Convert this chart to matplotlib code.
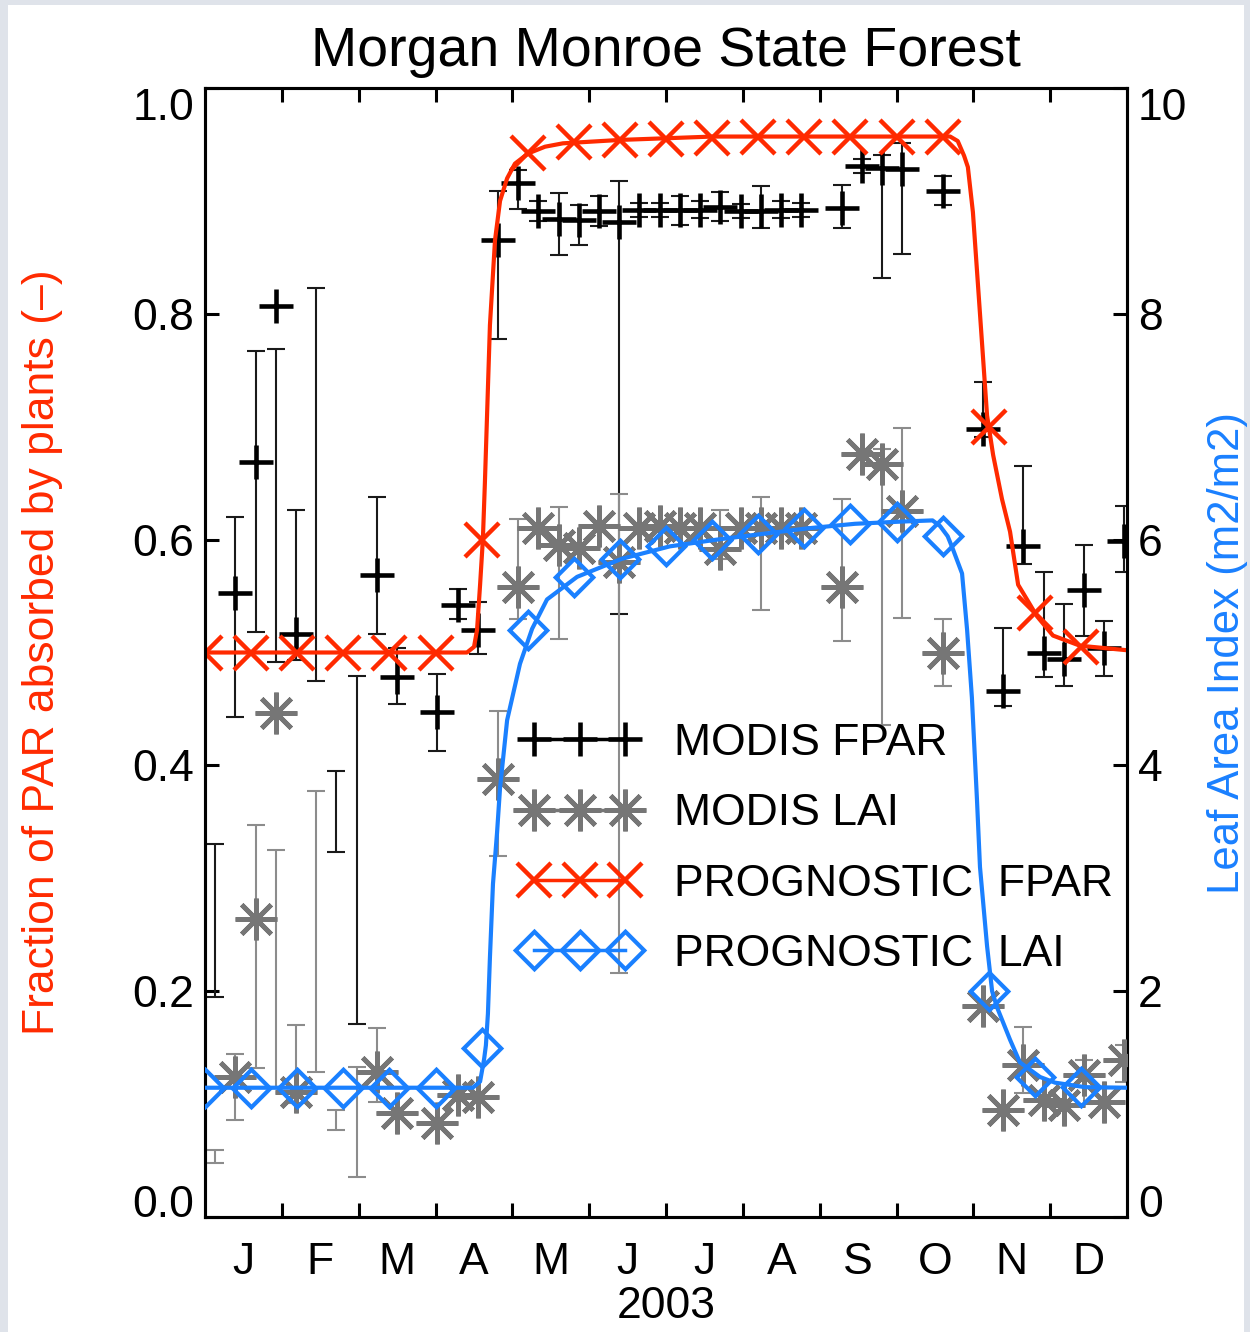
import numpy as np
import matplotlib
matplotlib.use('Agg')
import matplotlib.pyplot as plt
from matplotlib.lines import Line2D
from matplotlib.patches import Rectangle

plt.rcParams['font.family'] = ['Liberation Sans', 'DejaVu Sans']

RED = '#ff2a00'
BLUE = '#1a80ff'
GRAY = '#767676'
LGRAY = '#8c8c8c'

months = ['J', 'F', 'M', 'A', 'M', 'J', 'J', 'A', 'S', 'O', 'N', 'D']

# MODIS 8-day composites (day of year)
doy = [4, 12, 20, 28, 36, 44, 52, 60, 68, 76, 84, 92, 100, 108, 116, 124,
       132, 140, 148, 156, 164, 172, 180, 188, 196, 204, 212, 220, 228, 236,
       244, 252, 260, 268, 276, 284, 292, 300, 308, 316, 324, 332, 340, 348,
       356, 364]
N = None
modis_fpar = [N, 0.553, 0.669, 0.807, 0.516, N, N, N, 0.569, 0.478, N, 0.447,
              0.542, 0.520, 0.865, 0.916, 0.891, 0.884, 0.883, 0.891, 0.881,
              0.892, 0.892, 0.892, 0.892, 0.895, 0.891, 0.891, 0.892, 0.892,
              N, 0.894, 0.931, 0.929, 0.928, N, 0.909, N, 0.698, 0.466, 0.594,
              0.500, 0.494, 0.555, 0.504, 0.599]
fpar_lo = [0.195, 0.443, 0.518, 0.492, 0.493, 0.475, 0.323, 0.171, 0.516, 0.454,
           N, 0.413, 0.530, 0.499, 0.778, 0.893, 0.882, 0.852, 0.861, 0.878,
           0.534, 0.886, 0.886, 0.879, 0.885, 0.882, 0.885, 0.876, 0.885, 0.886,
           N, 0.876, 0.925, 0.832, 0.853, N, 0.896, N, 0.691, 0.453, 0.578,
           0.478, 0.470, 0.515, 0.479, 0.571]
fpar_hi = [0.330, 0.620, 0.767, 0.769, 0.626, 0.823, 0.395, 0.479, 0.638, 0.504,
           N, 0.481, 0.556, 0.545, 0.909, 0.927, 0.900, 0.907, 0.896, 0.904,
           0.918, 0.898, 0.898, 0.904, 0.900, 0.908, 0.897, 0.913, 0.900, 0.898,
           N, 0.914, 0.937, 0.941, 0.951, N, 0.922, N, 0.740, 0.522, 0.665,
           0.571, 0.543, 0.595, 0.528, 0.630]
modis_lai = [N, 1.24, 2.64, 4.46, 1.11, N, N, N, 1.28, 0.92, N, 0.83, 1.08, 1.06,
             3.88, 5.58, 6.10, 5.95, 5.93, 6.12, 5.80, 6.10, 6.12, 6.10, 6.10,
             5.92, 6.10, 6.10, 6.10, 6.10, N, 5.58, 6.76, 6.67, 6.25, N, 5.00,
             N, 1.87, 0.95, 1.35, 1.04, 0.99, 1.26, 1.02, 1.39]
lai_lo = [0.48, 0.86, 1.32, 1.14, 1.01, 1.28, 0.77, 0.35, 1.02, N, N, N, N, N,
          3.20, 5.30, N, 5.12, N, N, 2.16, N, N, N, N, 5.83, N, 5.38, N, N,
          N, 5.10, N, 4.36, 5.31, N, 4.70, N, N, N, 1.10, N, N, 1.00, N, 1.20]
lai_hi = [0.59, 1.44, 3.47, 3.25, 1.70, 3.77, 0.95, 1.33, 1.67, N, N, N, N, N,
          4.48, 6.18, N, 6.29, N, N, 6.40, N, N, N, N, 6.26, N, 6.38, N, N,
          N, 6.36, N, 6.80, 6.99, N, 5.30, N, N, N, 1.68, N, N, 1.39, N, 1.52]

# prognostic model curves
prog_fpar_day = [0, 103.7, 106.5, 107.7, 108.9, 110, 110.8, 112.8, 114.8, 116.8,
                 119.6, 122.7, 127.9, 134.6, 141.7, 164.3, 201, 247.4, 295, 298,
                 300.5, 302, 304, 306.8, 309.6, 312, 315.5, 318.7, 321.9, 325.4,
                 329.4, 335.7, 346.4, 365]
prog_fpar = [0.50, 0.50, 0.505, 0.52, 0.56, 0.60, 0.65, 0.79, 0.865, 0.90,
             0.92, 0.933, 0.942, 0.948, 0.951, 0.954, 0.957, 0.957, 0.957, 0.953,
             0.94, 0.93, 0.89, 0.80, 0.71, 0.675, 0.636, 0.607, 0.56, 0.547,
             0.532, 0.515, 0.506, 0.502]
prog_lai_day = [0, 106, 108.9, 110.5, 111.2, 112, 112.8, 114, 115.6, 116.8,
                119.6, 124.7, 129.5, 135.4, 147.3, 165, 184, 202.7, 220.5, 238.7,
                257.3, 276, 288, 291, 294, 296, 299.7, 301.7, 303.6, 305.6,
                306.8, 309.6, 311.6, 313.5, 318.7, 322.6, 330.6, 336.5, 348.4, 365]
prog_lai = [1.145, 1.145, 1.2, 1.4, 1.52, 1.8, 2.3, 2.95, 3.4, 3.8,
            4.4, 4.9, 5.21, 5.47, 5.67, 5.83, 5.94, 6.0, 6.05, 6.1,
            6.14, 6.16, 6.17, 6.12, 6.03, 5.92, 5.7, 5.2, 4.6, 3.7,
            3.1, 2.4, 2.0, 1.86, 1.57, 1.37, 1.24, 1.19, 1.15, 1.145]
mark_day = [0, 18.25, 36.5, 54.75, 73, 91.25, 109.5, 127.75, 146, 164.25,
            182.5, 200.75, 219, 237.25, 255.5, 273.75, 292, 310.25, 328.5, 346.75]
mark_fpar = [0.50, 0.50, 0.50, 0.50, 0.50, 0.50, 0.60, 0.942, 0.952, 0.954,
             0.955, 0.956, 0.957, 0.957, 0.957, 0.957, 0.957, 0.70, 0.535, 0.505]
mark_lai = [1.145, 1.145, 1.145, 1.145, 1.145, 1.145, 1.5, 5.2, 5.67, 5.83,
            5.94, 6.0, 6.05, 6.1, 6.14, 6.16, 6.03, 2.0, 1.24, 1.15]


def arr(v):
    return np.array([np.nan if a is None else a for a in v], dtype=float)


fig = plt.figure(figsize=(12.5, 13.32), dpi=100)
fig.patch.set_facecolor('#dfe3ea')
fig.patches.append(Rectangle((8 / 1250, 0), 1236 / 1250, 1 - 5 / 1332,
                             transform=fig.transFigure, facecolor='white',
                             edgecolor='none', zorder=-10))

ax = fig.add_axes([205 / 1250, 1 - 1217 / 1332, 922 / 1250, 1129 / 1332])
ax2 = ax.twinx()
ax.patch.set_alpha(0)

x = np.array(doy, dtype=float)

# MODIS FPAR with error bars
lo, hi = arr(fpar_lo), arr(fpar_hi)
ax.errorbar(x, (lo + hi) / 2, yerr=(hi - lo) / 2, fmt='none', ecolor='#1a1a1a',
            elinewidth=1.5, capsize=6.5, capthick=1.5, zorder=2)
ax.plot(x, arr(modis_fpar), ls='none', marker='+', ms=25, mew=3.3,
        color='black', zorder=3)
# prognostic FPAR
ax.plot(prog_fpar_day, prog_fpar, color=RED, lw=3, zorder=4)
ax.plot(mark_day, mark_fpar, ls='none', marker='x', ms=24, mew=3.2,
        color=RED, zorder=5)

# MODIS LAI with error bars
lo, hi = arr(lai_lo), arr(lai_hi)
ax2.errorbar(x, (lo + hi) / 2, yerr=(hi - lo) / 2, fmt='none', ecolor=LGRAY,
             elinewidth=1.5, capsize=6.5, capthick=1.5, zorder=2)
ax2.plot(x, arr(modis_lai), ls='none', marker=(8, 2, 0), ms=30, mew=3.4,
         color=GRAY, zorder=3)
# prognostic LAI
ax2.plot(prog_lai_day, prog_lai, color=BLUE, lw=3, zorder=4)
ax2.plot(mark_day, mark_lai, ls='none', marker=(4, 0, 0), ms=27, mew=3,
         mfc='none', mec=BLUE, zorder=5)

ax.set_xlim(0, 365)
ax.set_ylim(0, 1)
ax2.set_ylim(0, 10)

bounds = np.arange(1, 12) * 365 / 12
centers = (np.arange(12) + 0.5) * 365 / 12
ax.set_xticks(bounds)
ax.set_xticklabels([])
ax.set_xticks(centers, minor=True)
ax.set_xticklabels(months, minor=True)
ax.tick_params(axis='x', which='major', direction='in', length=10, width=2.2,
               top=True, bottom=True)
ax.tick_params(axis='x', which='minor', length=0, pad=18, labelsize=32)
ax.set_xlabel('2003', fontsize=32, labelpad=2)

ax.set_yticks([0, 0.2, 0.4, 0.6, 0.8, 1.0])
ax.set_yticklabels(['0.0', '0.2', '0.4', '0.6', '0.8', '1.0'])
ax.tick_params(axis='y', direction='in', length=10, width=2.2, labelsize=32, pad=8)
ax2.set_yticks([0, 2, 4, 6, 8, 10])
ax2.set_yticklabels(['0', '2', '4', '6', '8', '10'])
ax2.tick_params(axis='y', direction='in', length=10, width=2.2, labelsize=32, pad=8)
# end labels sit inside the axis range
for a in (ax, ax2):
    tl = a.get_yticklabels()
    tl[0].set_verticalalignment('baseline')
    tl[-1].set_verticalalignment('top')

for a in (ax, ax2):
    for s in a.spines.values():
        s.set_linewidth(2.2)

ax.set_ylabel('Fraction of PAR absorbed by plants (\u2013)', color=RED,
              fontsize=32, labelpad=50)
ax2.set_ylabel('Leaf Area Index (m2/m2)', color=BLUE, fontsize=31.5,
               rotation=90, labelpad=14)
ax.set_title('Morgan Monroe State Forest', fontsize=40, pad=16)

handles = [
    Line2D([], [], color='black', lw=2.5, marker='+', ms=25, mew=3.3),
    Line2D([], [], color=GRAY, lw=2.5, marker=(8, 2, 0), ms=30, mew=3.4),
    Line2D([], [], color=RED, lw=2.5, marker='x', ms=24, mew=3.2),
    Line2D([], [], color=BLUE, lw=2.5, marker=(4, 0, 0), ms=27, mew=3,
           mfc='none', mec=BLUE),
]
labels = ['MODIS FPAR', 'MODIS LAI', 'PROGNOSTIC  FPAR', 'PROGNOSTIC  LAI']
leg = ax2.legend(handles, labels, loc='upper left',
                 bbox_to_anchor=(521 / 1250, 1 - 723 / 1332),
                 bbox_transform=fig.transFigure, frameon=False, numpoints=3,
                 handlelength=2.65, handletextpad=0.8, labelspacing=0.66,
                 borderpad=0, borderaxespad=0, fontsize=32)
leg.set_zorder(10)

fig.savefig('out.png', dpi=100, facecolor=fig.get_facecolor())
